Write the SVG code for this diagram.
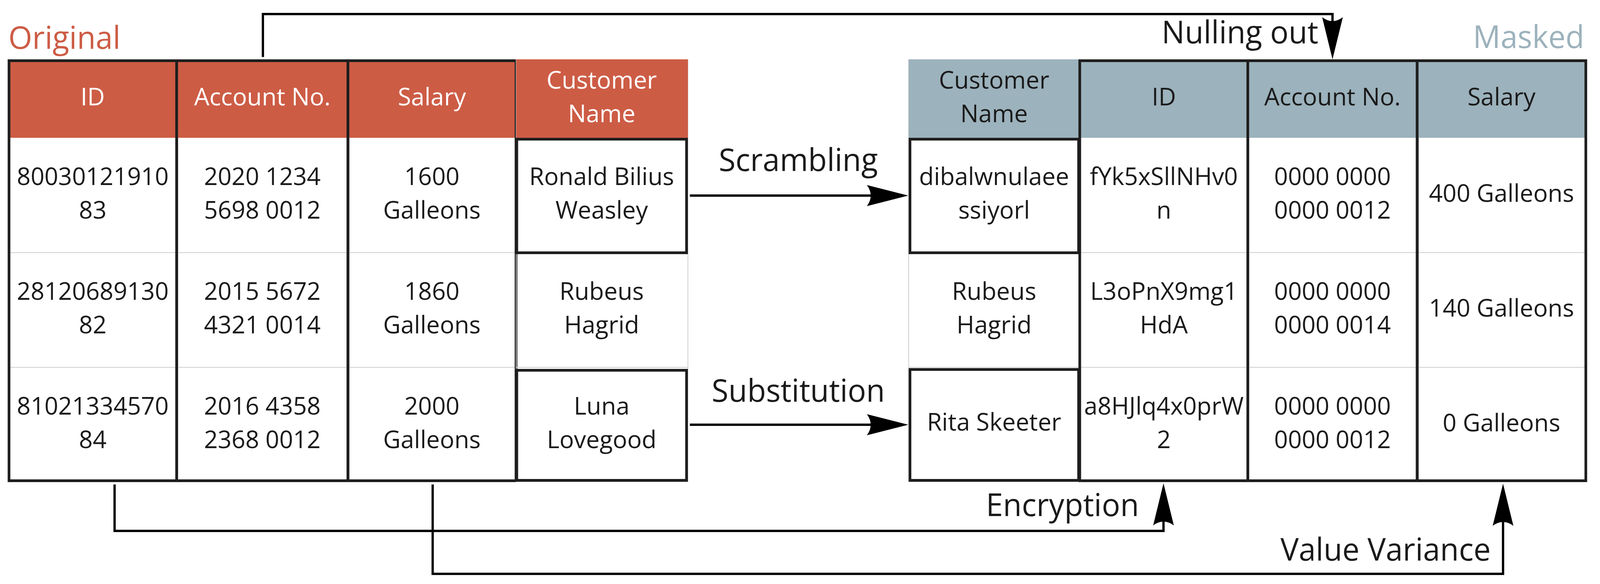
<svg xmlns="http://www.w3.org/2000/svg" width="4175" height="1496" viewBox="0 0 4175 1496" preserveAspectRatio="none" style="width:100vw;height:100vh;display:block">
<defs>
<style>
text{font-family:"Open Sans","Noto Sans","Liberation Sans",sans-serif;}
.cell{font-size:63px;fill:#1a1a1a;text-anchor:middle;}
.hw{font-size:63px;fill:#ffffff;text-anchor:middle;}
.hd{font-size:63px;fill:#1a1a1a;text-anchor:middle;}
.lbl{font-size:80px;fill:#1a1a1a;}
.col{fill:none;stroke:#1e1e1e;stroke-width:7;}
.box{fill:none;stroke:#1e1e1e;stroke-width:7;}
.thin{fill:none;stroke:#cfcfcf;stroke-width:2;}
.red{fill:#cd5c45;}
.blue{fill:#9cb2bc;}
.conn{fill:none;stroke:#000000;stroke-width:6;}
</style>
<marker id="arr" markerUnits="userSpaceOnUse" markerWidth="110" markerHeight="56" refX="10" refY="27" orient="auto" viewBox="0 0 110 56">
<path d="M108 27 L0 0 Q20 27 0 54 Z" fill="#000000"/>
</marker>
</defs>
<rect width="4175" height="1496" fill="#ffffff"/>

<text x="22" y="125" class="lbl" style="fill:#cd5c45">Original</text>
<text x="4134" y="123" class="lbl" style="fill:#9cb2bc;text-anchor:end">Masked</text>

<!-- Original table -->
<g id="orig-id">
<rect class="red" x="23" y="152" width="438" height="201"/>
<line class="thin" x1="23" y1="647" x2="461" y2="647"/>
<line class="thin" x1="23" y1="941" x2="461" y2="941"/>
<rect class="col" x="23.5" y="155.5" width="437.5" height="1076"/>
<text class="hw" x="242" y="270">ID</text>
<text class="cell" x="242" y="474">80030121910</text><text class="cell" x="242" y="560">83</text>
<text class="cell" x="242" y="768">28120689130</text><text class="cell" x="242" y="854">82</text>
<text class="cell" x="242" y="1062">81021334570</text><text class="cell" x="242" y="1148">84</text>
</g>
<g id="orig-account">
<rect class="red" x="461" y="152" width="447" height="201"/>
<line class="thin" x1="461" y1="647" x2="908" y2="647"/>
<line class="thin" x1="461" y1="941" x2="908" y2="941"/>
<rect class="col" x="461" y="155.5" width="447" height="1076"/>
<text class="hw" x="684.5" y="270">Account No.</text>
<text class="cell" x="684.5" y="474">2020 1234</text><text class="cell" x="684.5" y="560">5698 0012</text>
<text class="cell" x="684.5" y="768">2015 5672</text><text class="cell" x="684.5" y="854">4321 0014</text>
<text class="cell" x="684.5" y="1062">2016 4358</text><text class="cell" x="684.5" y="1148">2368 0012</text>
</g>
<g id="orig-salary">
<rect class="red" x="908" y="152" width="438" height="201"/>
<line class="thin" x1="908" y1="647" x2="1346" y2="647"/>
<line class="thin" x1="908" y1="941" x2="1346" y2="941"/>
<rect class="col" x="908" y="155.5" width="438.5" height="1076"/>
<text class="hw" x="1127" y="270">Salary</text>
<text class="cell" x="1127" y="474">1600</text><text class="cell" x="1127" y="560">Galleons</text>
<text class="cell" x="1127" y="768">1860</text><text class="cell" x="1127" y="854">Galleons</text>
<text class="cell" x="1127" y="1062">2000</text><text class="cell" x="1127" y="1148">Galleons</text>
</g>
<g id="orig-customer">
<rect class="thin" x="1347" y="153" width="448" height="1081"/>
<rect class="red" x="1347" y="152" width="448" height="201"/>
<line class="thin" x1="1347" y1="647" x2="1795" y2="647"/>
<line class="thin" x1="1347" y1="941" x2="1795" y2="941"/>
<rect class="box" x="1348.5" y="356.5" width="443" height="291"/>
<rect class="box" x="1348.5" y="948.5" width="443" height="282"/>
<text class="hw" x="1570" y="227">Customer</text><text class="hw" x="1570" y="313">Name</text>
<text class="cell" x="1570" y="474">Ronald Bilius</text><text class="cell" x="1570" y="560">Weasley</text>
<text class="cell" x="1570" y="768">Rubeus</text><text class="cell" x="1570" y="854">Hagrid</text>
<text class="cell" x="1570" y="1062">Luna</text><text class="cell" x="1570" y="1148">Lovegood</text>
</g>

<!-- Masked table -->
<g id="mask-customer">
<rect class="thin" x="2371" y="153" width="446" height="1081"/>
<rect class="blue" x="2371" y="152" width="446" height="201"/>
<line class="thin" x1="2371" y1="647" x2="2817" y2="647"/>
<line class="thin" x1="2371" y1="941" x2="2817" y2="941"/>
<rect class="box" x="2374.5" y="356.5" width="440" height="291"/>
<rect class="box" x="2374.5" y="946.5" width="440" height="284"/>
<text class="hd" x="2594" y="227">Customer</text><text class="hd" x="2594" y="313">Name</text>
<text class="cell" x="2594" y="474">dibalwnulaee</text><text class="cell" x="2594" y="560">ssiyorl</text>
<text class="cell" x="2594" y="768">Rubeus</text><text class="cell" x="2594" y="854">Hagrid</text>
<text class="cell" x="2594" y="1103">Rita Skeeter</text>
</g>
<g id="mask-id">
<rect class="blue" x="2817" y="152" width="439" height="201"/>
<line class="thin" x1="2817" y1="647" x2="3256" y2="647"/>
<line class="thin" x1="2817" y1="941" x2="3256" y2="941"/>
<rect class="col" x="2817.5" y="155.5" width="438.5" height="1076"/>
<text class="hd" x="3037" y="270">ID</text>
<text class="cell" x="3037" y="474">fYk5xSllNHv0</text><text class="cell" x="3037" y="560">n</text>
<text class="cell" x="3037" y="768">L3oPnX9mg1</text><text class="cell" x="3037" y="854">HdA</text>
<text class="cell" x="3037" y="1062">a8HJlq4x0prW</text><text class="cell" x="3037" y="1148">2</text>
</g>
<g id="mask-account">
<rect class="blue" x="3256" y="152" width="442" height="201"/>
<line class="thin" x1="3256" y1="647" x2="3698" y2="647"/>
<line class="thin" x1="3256" y1="941" x2="3698" y2="941"/>
<rect class="col" x="3256" y="155.5" width="442" height="1076"/>
<text class="hd" x="3477" y="270">Account No.</text>
<text class="cell" x="3477" y="474">0000 0000</text><text class="cell" x="3477" y="560">0000 0012</text>
<text class="cell" x="3477" y="768">0000 0000</text><text class="cell" x="3477" y="854">0000 0014</text>
<text class="cell" x="3477" y="1062">0000 0000</text><text class="cell" x="3477" y="1148">0000 0012</text>
</g>
<g id="mask-salary">
<rect class="blue" x="3698" y="152" width="442" height="201"/>
<line class="thin" x1="3698" y1="647" x2="4138" y2="647"/>
<line class="thin" x1="3698" y1="941" x2="4138" y2="941"/>
<rect class="col" x="3698" y="155.5" width="440" height="1076"/>
<text class="hd" x="3918" y="270">Salary</text>
<text class="cell" x="3918" y="517">400 Galleons</text>
<text class="cell" x="3918" y="811">140 Galleons</text>
<text class="cell" x="3918" y="1105">0 Galleons</text>
</g>

<!-- Connectors -->
<g id="connectors">
<path class="conn" d="M686 146 V36 H3477 V54" marker-end="url(#arr)"/>
<path class="conn" d="M1800 501 H2272" marker-end="url(#arr)"/>
<path class="conn" d="M1800 1088 H2272" marker-end="url(#arr)"/>
<path class="conn" d="M299 1241 V1360 H3036 V1336" marker-end="url(#arr)"/>
<path class="conn" d="M1129 1241 V1470 H3922 V1337" marker-end="url(#arr)"/>
<text class="lbl" x="3440" y="111" text-anchor="end">Nulling out</text>
<text class="lbl" x="2083" y="438" text-anchor="middle">Scrambling</text>
<text class="lbl" x="2083" y="1029" text-anchor="middle">Substitution</text>
<text class="lbl" x="2972" y="1322" text-anchor="end">Encryption</text>
<text class="lbl" x="3890" y="1436" text-anchor="end">Value Variance</text>
</g>
</svg>
